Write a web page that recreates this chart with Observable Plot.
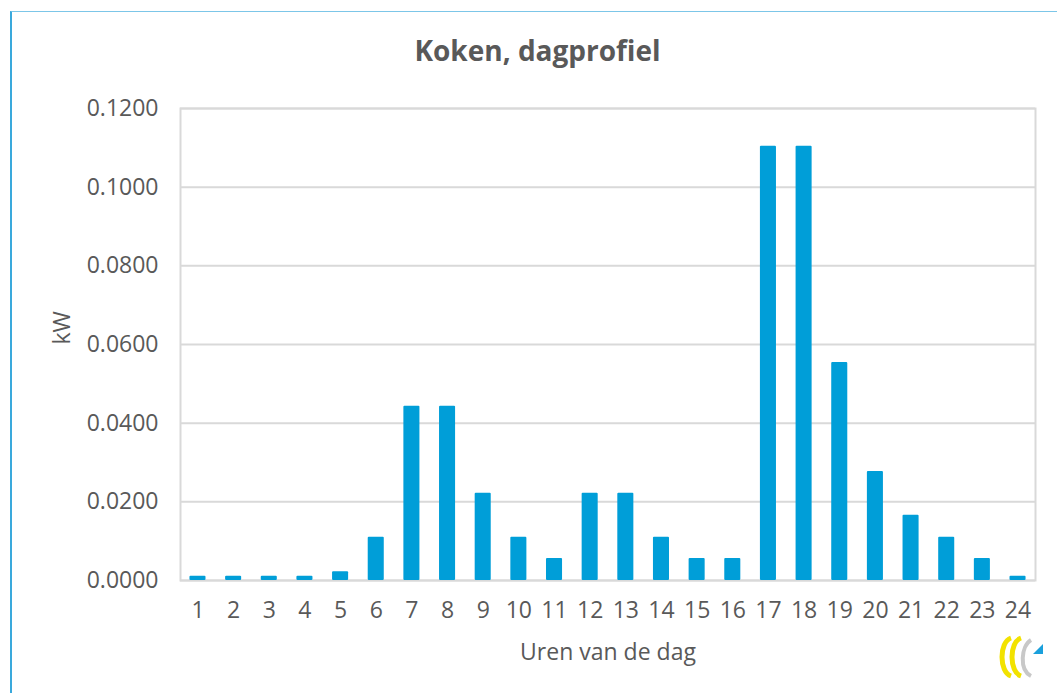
<!DOCTYPE html>
<html>
<head>
<meta charset="utf-8">
<script src="https://cdn.jsdelivr.net/npm/d3@7"></script>
<script src="https://cdn.jsdelivr.net/npm/@observablehq/plot@0.6"></script>
<style>
  html, body { margin: 0; padding: 0; background: #fff; }
  #wrap { position: relative; width: 1057px; height: 693px; overflow: hidden; font-family: "Open Sans", sans-serif; }
  #border { position: absolute; left: 10px; top: 11px; right: -5px; bottom: -5px; border-left: 2px solid #3aa9dc; border-top: 1px solid #7cc6e8; }
  #title { position: absolute; left: 0; width: 1075px; top: 31px; text-align: center; font-size: 28px; font-weight: bold; color: #595959; }
  #chart { position: absolute; left: 0; top: 0; }
  #logo { position: absolute; left: 997px; top: 632px; }
</style>
</head>
<body>
<div id="wrap">
  <div id="border"></div>
  <div id="title">Koken, dagprofiel</div>
  <div id="chart"></div>
  <svg id="logo" width="48" height="50" viewBox="0 0 48 50">
    <path d="M14 6 C2 10 2 40 14 44" fill="none" stroke="#f2e200" stroke-width="5"/>
    <path d="M24 6 C12 10 12 40 24 44" fill="none" stroke="#f2e200" stroke-width="5"/>
    <path d="M34 8 C24 14 22 38 34 44" fill="none" stroke="#c8c8c8" stroke-width="4"/>
    <path d="M36 22 L46 12 L46 22 Z" fill="#1aa0dc"/>
  </svg>
</div>
<script>
const hours = d3.range(1, 25);
const kw = [0.0011, 0.0011, 0.0011, 0.0011, 0.0022, 0.0110, 0.0443, 0.0443, 0.0222, 0.0110, 0.0056, 0.0222,
            0.0222, 0.0110, 0.0056, 0.0056, 0.1104, 0.1104, 0.0554, 0.0277, 0.0166, 0.0110, 0.0056, 0.0011];
const yTicks = [0, 0.02, 0.04, 0.06, 0.08, 0.10, 0.12];
const title = "Koken, dagprofiel";
const xLabel = "Uren van de dag";
const yLabel = "kW";

const data = hours.map((h, i) => ({hour: h, kw: kw[i]}));

const chart = Plot.plot({
  width: 1057,
  height: 693,
  marginLeft: 180,
  marginRight: 22,
  marginTop: 108,
  marginBottom: 113,
  style: {fontFamily: "'Open Sans', sans-serif", fontSize: "23px", color: "#595959", background: "transparent"},
  x: {domain: hours, paddingInner: 0.55, paddingOuter: 0.265, round: false, label: null},
  y: {domain: [0, 0.12], label: null},
  marks: [
    Plot.gridY(yTicks, {stroke: "#d9d9d9", strokeOpacity: 1, strokeWidth: 2}),
    Plot.frame({stroke: "#d9d9d9", strokeWidth: 2}),
    Plot.barY(data, {x: "hour", y: "kw", fill: "#009ed8", rx: 1}),
    Plot.axisY(yTicks, {tickSize: 0, tickPadding: 22, tickFormat: d3.format(".4f"), label: null, fill: "#595959", fontSize: 23}),
    Plot.axisX(hours, {tickSize: 0, tickPadding: 21, label: null, fill: "#595959", fontSize: 23}),
    Plot.text([xLabel], {frameAnchor: "bottom", dy: 79, fill: "#595959", fontSize: 23}),
    Plot.text([yLabel], {frameAnchor: "left", dx: -118, rotate: -90, fill: "#595959", fontSize: 23})
  ]
});
document.getElementById("chart").appendChild(chart);
</script>
</body>
</html>
